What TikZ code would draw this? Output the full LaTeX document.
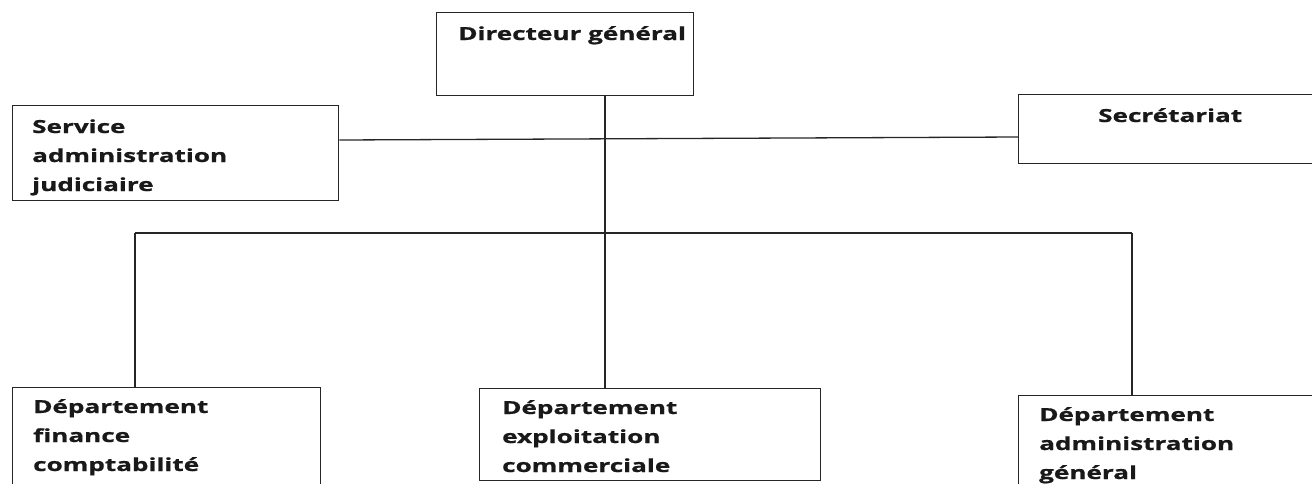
\documentclass[tikz,border=0pt]{standalone}
\usepackage{fontspec}
\newfontfamily\boxfont{Open Sans}[FakeStretch=1.45,BoldFeatures={FakeBold=0.8}]
\begin{document}
\begin{tikzpicture}[x=1pt,y=-1pt,
  box/.style={draw=black!85,line width=1.3pt,inner sep=0pt,anchor=north west},
  lbl/.style={anchor=base west,inner sep=0pt,align=left,font=\boxfont\bfseries\fontsize{18}{29}\selectfont,text=black!90},
  conn/.style={draw=black!85,line width=1.3pt}]
\useasboundingbox (0,0) rectangle (1312,483);
\clip (0,0) rectangle (1312,483);
% boxes
\node[box,minimum width=257pt,minimum height=83pt] (dg) at (436,12) {};
\node[box,minimum width=326pt,minimum height=95pt] (saj) at (12,105) {};
\node[box,minimum width=320pt,minimum height=69pt] (sec) at (1018,94) {};
\node[box,minimum width=308pt,minimum height=120pt] (dfc) at (12,387) {};
\node[box,minimum width=341pt,minimum height=92pt] (dec) at (479,388) {};
\node[box,minimum width=320pt,minimum height=120pt] (dag) at (1018,395) {};
% labels (anchor = baseline of last line)
\node[lbl] (tdg) at (458,40) {Directeur général};
\node[lbl] (tsaj) at (32,191) {Service\\administration\\judiciaire};
\node[lbl] (tsec) at (1098,122) {Secrétariat};
\node[lbl] (tdfc) at (33,471) {Département\\finance\\comptabilité};
\node[lbl] (tdec) at (502,472) {Département\\exploitation\\commerciale};
\node[lbl] (tdag) at (1039,479) {Département\\administration\\général};
% connectors
\coordinate (b0) at (605,233);
\coordinate (bl) at (135,233);
\coordinate (br) at (1132,233);
\draw[conn] (saj.east |- 0,140) -- (sec.west |- 0,137);
\draw[conn] (dg.south -| b0) -- (b0);
\draw[conn] (bl) -- (br);
\draw[conn] (bl) -- (bl |- dfc.north);
\draw[conn] (b0) -- (b0 |- dec.north);
\draw[conn] (br) -- (br |- dag.north);
\end{tikzpicture}
\end{document}
